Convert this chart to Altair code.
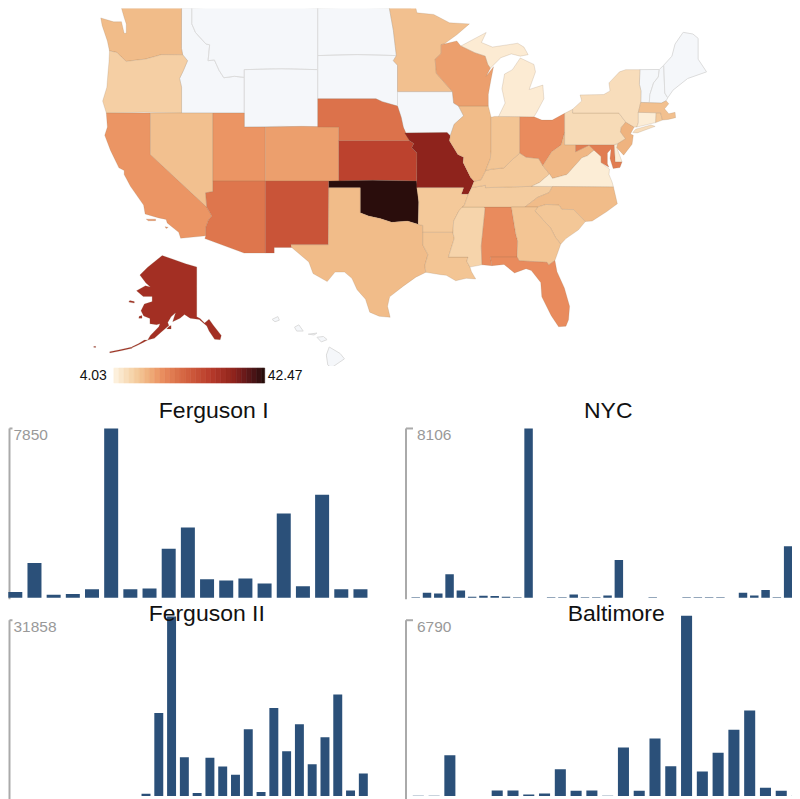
import altair as alt

FONT = "Liberation Sans"
NO_DATA = "#f5f7fa"
BAR = "#2b5079"

# Approximate state outlines (lon, lat), each state a list of rings
STATES = {
"WA": [[(-124.73,48.38),(-123.5,48.13),(-122.76,48.14),(-122.5,47.4),(-122.3,47.4),(-122.3,48.0),(-122.5,48.4),(-122.76,49.0),(-117.03,49.0),(-117.04,46.42),(-116.92,45.99),(-118.98,46.0),(-119.3,45.93),(-120.5,45.7),(-121.2,45.65),(-122.3,45.55),(-122.78,45.85),(-123.2,46.15),(-123.9,46.25),(-124.1,46.9),(-124.6,47.9)]],
"OR": [[(-123.9,46.25),(-123.2,46.15),(-122.78,45.85),(-122.3,45.55),(-121.2,45.65),(-120.5,45.7),(-119.3,45.93),(-118.98,46.0),(-116.92,45.99),(-116.46,45.6),(-116.85,44.95),(-117.22,44.4),(-117.03,43.8),(-117.03,42.0),(-124.2,42.0),(-124.55,42.84),(-124.15,43.8),(-124.05,44.7),(-123.95,45.5)]],
"CA": [[(-124.2,42.0),(-120.0,42.0),(-120.0,39.0),(-114.63,35.0),(-114.14,34.3),(-114.45,34.0),(-114.72,33.4),(-114.72,32.72),(-117.12,32.53),(-117.3,33.0),(-118.4,33.75),(-118.5,34.03),(-119.2,34.15),(-120.5,34.45),(-120.65,35.15),(-121.9,36.6),(-122.5,37.5),(-122.5,37.8),(-123.0,38.0),(-123.8,39.3),(-124.35,40.4),(-124.1,41.0)],
       [(-120.4,34.05),(-119.5,34.05),(-119.5,33.93),(-120.2,33.92)],[(-118.6,33.45),(-118.3,33.4),(-118.5,33.3)]],
"NV": [[(-120,42),(-114.04,42),(-114.04,36.2),(-114.74,36.1),(-114.63,35.0),(-120,39)]],
"ID": [[(-117.03,49),(-116.05,49),(-116.05,48.0),(-115.7,47.45),(-114.7,46.7),(-114.35,46.65),(-114.5,45.6),(-113.9,45.65),(-113.45,44.95),(-113.0,44.45),(-112.0,44.55),(-111.05,44.48),(-111.05,42),(-117.03,42),(-117.03,43.8),(-117.22,44.4),(-116.85,44.95),(-116.46,45.6),(-116.92,45.99),(-117.04,46.42)]],
"MT": [[(-116.05,49),(-104.05,49),(-104.05,45),(-111.05,45),(-111.05,44.48),(-112,44.55),(-113,44.45),(-113.45,44.95),(-113.9,45.65),(-114.5,45.6),(-114.35,46.65),(-114.7,46.7),(-115.7,47.45),(-116.05,48)]],
"WY": [[(-111.05,45),(-104.05,45),(-104.05,41),(-111.05,41)]],
"UT": [[(-114.04,42),(-111.05,42),(-111.05,41),(-109.05,41),(-109.05,37),(-114.04,37)]],
"CO": [[(-109.05,41),(-102.05,41),(-102.05,37),(-109.05,37)]],
"AZ": [[(-114.04,37),(-109.05,37),(-109.05,31.33),(-111.07,31.33),(-114.81,32.5),(-114.72,32.72),(-114.72,33.4),(-114.45,34.0),(-114.14,34.3),(-114.63,35.0),(-114.74,36.1),(-114.04,36.2)]],
"NM": [[(-109.05,37),(-103.0,37),(-103.04,32),(-106.62,32),(-106.53,31.78),(-108.2,31.78),(-108.2,31.33),(-109.05,31.33)]],
"ND": [[(-104.05,49),(-97.23,49),(-96.85,47.6),(-96.56,45.94),(-104.05,45.94)]],
"SD": [[(-104.05,45.94),(-96.56,45.94),(-96.85,45.6),(-96.45,45.3),(-96.45,43.5),(-96.45,42.49),(-97.9,42.8),(-98.5,43.0),(-104.05,43)]],
"NE": [[(-104.05,43),(-98.5,43),(-97.9,42.8),(-96.45,42.49),(-96.1,41.7),(-95.9,41.0),(-95.31,40.0),(-102.05,40),(-102.05,41),(-104.05,41)]],
"KS": [[(-102.05,40),(-95.31,40),(-94.9,39.8),(-95.1,39.5),(-94.6,39.1),(-94.62,37),(-102.05,37)]],
"OK": [[(-103,37),(-94.62,37),(-94.43,35.4),(-94.48,33.64),(-95.5,33.9),(-97.0,33.8),(-98.1,34.1),(-99.2,34.3),(-100,34.56),(-100,36.5),(-103,36.5)]],
"TX": [[(-103,36.5),(-100,36.5),(-100,34.56),(-99.2,34.3),(-98.1,34.1),(-97,33.8),(-95.5,33.9),(-94.48,33.64),(-94.04,33.55),(-94.04,33.0),(-94.04,32),(-93.55,31.2),(-93.85,30.3),(-93.75,29.75),(-94.7,29.35),(-95.9,28.6),(-97.2,27.7),(-97.4,26.9),(-97.15,25.96),(-98.2,26.05),(-99.1,26.4),(-99.5,27.5),(-100.3,28.3),(-100.8,29.25),(-101.5,29.77),(-102.4,29.77),(-103.15,28.98),(-104.5,29.65),(-104.9,30.6),(-106.53,31.78),(-106.62,32),(-103.04,32)]],
"MN": [[(-97.23,49),(-95.15,49),(-95.15,49.38),(-94.8,49.3),(-94.6,48.7),(-93,48.6),(-91.5,48.07),(-89.6,48.0),(-90.8,47.3),(-92.01,46.7),(-92.29,46.66),(-92.29,46.08),(-92.87,45.7),(-92.75,44.75),(-91.22,43.5),(-96.45,43.5),(-96.45,45.3),(-96.85,45.6),(-96.56,45.94),(-96.85,47.6)]],
"IA": [[(-96.45,43.5),(-91.22,43.5),(-91.1,42.7),(-90.64,42.5),(-90.15,41.8),(-91.05,41.2),(-91.42,40.38),(-91.73,40.61),(-95.77,40.58),(-95.9,41.0),(-96.1,41.7),(-96.45,42.49)]],
"MO": [[(-95.77,40.58),(-91.73,40.61),(-91.42,40.38),(-91.5,40.0),(-90.7,39.0),(-90.15,38.8),(-90.2,38.4),(-89.5,37.3),(-89.15,36.98),(-89.4,36.5),(-89.7,36.0),(-90.37,36.0),(-90.15,36.5),(-94.62,36.5),(-94.62,37),(-94.6,39.1),(-95.1,39.5),(-94.9,39.8),(-95.31,40)]],
"AR": [[(-94.62,36.5),(-90.15,36.5),(-90.37,36.0),(-89.7,36.0),(-90.1,35.1),(-90.6,34.7),(-91.1,33.9),(-91.17,33.0),(-94.04,33.0),(-94.04,33.55),(-94.48,33.64),(-94.43,35.4)]],
"LA": [[(-94.04,33),(-91.17,33),(-91.05,32.5),(-91.6,31.0),(-89.73,31.0),(-89.85,30.65),(-89.55,30.18),(-89.4,29.8),(-89.0,29.2),(-89.9,29.25),(-90.9,29.05),(-91.8,29.5),(-92.3,29.55),(-93.75,29.75),(-93.85,30.3),(-93.55,31.2),(-94.04,32)]],
"MS": [[(-90.3,35),(-88.2,35),(-88.1,34.9),(-88.47,31.9),(-88.4,30.37),(-89.55,30.18),(-89.85,30.65),(-89.73,31),(-91.6,31),(-91.05,32.5),(-91.17,33),(-91.1,33.9),(-90.6,34.7)]],
"AL": [[(-88.2,35),(-85.6,35),(-85.18,32.87),(-85.0,32.3),(-85.05,31.0),(-87.6,31),(-87.45,30.3),(-88.4,30.37),(-88.47,31.9),(-88.1,34.9)]],
"TN": [[(-90.3,35),(-88.2,35),(-85.6,35),(-84.32,35),(-83.1,35.75),(-82,36.12),(-81.68,36.59),(-83.68,36.6),(-88.07,36.5),(-88.07,36.68),(-89.4,36.5),(-89.7,36),(-90.1,35.1)]],
"KY": [[(-89.4,36.5),(-88.07,36.68),(-88.07,36.5),(-83.68,36.6),(-82.9,36.9),(-81.97,37.54),(-82.6,38.17),(-83.0,38.7),(-84.2,38.8),(-84.8,39.1),(-85.4,38.7),(-86.3,38.0),(-87.5,37.9),(-88.05,37.8),(-88.5,37.1),(-89.15,36.98)]],
"IL": [[(-90.64,42.5),(-87.8,42.5),(-87.53,41.7),(-87.53,39.35),(-87.6,38.7),(-88.05,37.8),(-88.5,37.1),(-89.15,36.98),(-89.5,37.3),(-90.2,38.4),(-90.15,38.8),(-90.7,39),(-91.5,40),(-91.42,40.38),(-91.05,41.2),(-90.15,41.8)]],
"IN": [[(-87.53,41.7),(-87.2,41.76),(-84.8,41.76),(-84.8,39.1),(-85.4,38.7),(-86.3,38),(-87.5,37.9),(-88.05,37.8),(-87.6,38.7),(-87.53,39.35)]],
"OH": [[(-84.8,41.76),(-83.45,41.73),(-82.7,41.5),(-81.7,41.5),(-80.52,41.98),(-80.52,40.64),(-80.85,39.7),(-81.75,39.2),(-82.6,38.17),(-83,38.7),(-84.2,38.8),(-84.8,39.1)]],
"WV": [[(-80.52,40.64),(-80.52,39.72),(-79.48,39.72),(-79.48,39.2),(-78.2,39.68),(-77.72,39.32),(-78.35,38.9),(-78.87,38.76),(-80.3,37.5),(-81.68,37.2),(-81.97,37.54),(-82.6,38.17),(-81.75,39.2),(-80.85,39.7)]],
"VA": [[(-83.68,36.6),(-81.68,36.59),(-75.87,36.55),(-76.0,36.93),(-76.3,37.5),(-76.25,37.9),(-77.05,38.4),(-77.05,38.85),(-77.72,39.32),(-78.35,38.9),(-78.87,38.76),(-80.3,37.5),(-81.68,37.2),(-81.97,37.54),(-82.9,36.9)]],
"MD": [[(-79.48,39.72),(-75.79,39.72),(-75.7,38.46),(-75.05,38.45),(-75.25,38.03),(-75.9,37.95),(-76.2,38.7),(-76.1,39.4),(-76.45,39.1),(-76.45,38.3),(-76.3,38.05),(-77.05,38.4),(-77.05,38.85),(-77.72,39.32),(-78.2,39.68),(-79.48,39.2)]],
"DE": [[(-75.79,39.72),(-75.45,39.8),(-75.55,39.5),(-75.05,38.45),(-75.7,38.46)]],
"PA": [[(-80.52,41.98),(-79.76,42.27),(-79.76,42),(-75.35,42),(-74.7,41.36),(-75.13,40.97),(-75.2,40.65),(-74.72,40.15),(-75.45,39.8),(-75.79,39.72),(-80.52,39.72)]],
"NJ": [[(-74.7,41.36),(-73.9,41.0),(-74.25,40.5),(-73.98,40.4),(-74.1,39.75),(-74.9,38.95),(-75.55,39.5),(-75.45,39.8),(-74.72,40.15),(-75.2,40.65),(-75.13,40.97)]],
"NY": [[(-79.76,42.27),(-78.9,42.85),(-79.05,43.27),(-76.8,43.3),(-76.2,43.55),(-76.3,44.1),(-75.3,44.85),(-74.7,45.0),(-73.35,45.0),(-73.4,44),(-73.25,43.55),(-73.27,42.75),(-73.5,42.05),(-73.5,41.3),(-73.65,41.0),(-73.9,41.0),(-74.7,41.36),(-75.35,42),(-79.76,42)],
       [(-74.03,40.6),(-73.75,40.85),(-72.3,41.15),(-71.9,41.05),(-73.6,40.58)]],
"CT": [[(-73.5,42.05),(-71.8,42.02),(-71.85,41.32),(-73.65,41.0),(-73.5,41.3)]],
"RI": [[(-71.8,42.02),(-71.38,42.02),(-71.2,41.5),(-71.85,41.32)]],
"MA": [[(-73.5,42.05),(-73.27,42.75),(-71.3,42.7),(-70.85,42.87),(-70.6,42.65),(-71.0,42.3),(-70.6,41.95),(-70.0,42.05),(-69.95,41.67),(-70.65,41.55),(-71.2,41.5),(-71.38,42.02),(-71.8,42.02)]],
"VT": [[(-73.35,45),(-71.5,45.01),(-71.6,44.5),(-72.05,44.1),(-72.4,43.3),(-72.46,42.73),(-73.27,42.75),(-73.25,43.55),(-73.4,44)]],
"NH": [[(-71.5,45.01),(-71.08,45.3),(-70.98,43.4),(-70.7,43.07),(-70.85,42.87),(-71.3,42.7),(-72.46,42.73),(-72.4,43.3),(-72.05,44.1),(-71.6,44.5)]],
"ME": [[(-71.08,45.3),(-70.3,45.9),(-70.0,46.7),(-69.23,47.46),(-68.3,47.35),(-67.8,47.07),(-67.8,45.7),(-67.0,44.85),(-68.8,44.4),(-70.2,43.6),(-70.7,43.07),(-70.98,43.4)]],
"MI": [[(-86.82,41.76),(-83.45,41.73),(-83.15,42.1),(-82.5,43.0),(-82.6,43.95),(-83.9,43.65),(-83.3,44.85),(-83.45,45.35),(-84.75,45.78),(-85.5,45.0),(-86.25,44.7),(-86.5,43.7),(-86.2,42.7)],
       [(-90.42,46.57),(-88.0,47.45),(-88.45,46.8),(-87.4,46.5),(-85.0,46.75),(-84.4,46.5),(-84.0,46.0),(-84.75,45.9),(-85.6,46.05),(-86.6,45.8),(-87.6,45.1),(-87.85,45.35),(-88.1,45.9),(-89.1,46.13)]],
"WI": [[(-92.29,46.66),(-92.01,46.7),(-90.8,46.9),(-90.42,46.57),(-89.1,46.13),(-88.1,45.9),(-87.85,45.35),(-87.6,45.1),(-88.0,44.55),(-87.3,45.2),(-87.55,44.3),(-87.8,43.3),(-87.8,42.5),(-90.64,42.5),(-91.1,42.7),(-91.22,43.5),(-92.75,44.75),(-92.87,45.7),(-92.29,46.08)]],
"NC": [[(-84.32,35),(-83.1,35.75),(-82,36.12),(-81.68,36.59),(-75.87,36.55),(-75.5,35.25),(-76.5,34.65),(-77.9,33.9),(-78.55,33.86),(-79.67,34.8),(-80.8,34.82),(-81.05,35.15),(-82.3,35.2),(-83.1,35.0)]],
"SC": [[(-83.1,35),(-82.3,35.2),(-81.05,35.15),(-80.8,34.82),(-79.67,34.8),(-78.55,33.86),(-79.2,33.2),(-80.4,32.5),(-80.9,32.05),(-81.4,32.6),(-81.9,33.4),(-82.6,34.0),(-83.35,34.7)]],
"GA": [[(-85.6,35),(-84.32,35),(-83.1,35),(-83.35,34.7),(-82.6,34),(-81.9,33.4),(-81.4,32.6),(-80.9,32.05),(-81.45,30.72),(-82.05,30.36),(-82.2,30.57),(-84.86,30.7),(-85.05,31),(-85,32.3),(-85.18,32.87)]],
"FL": [[(-87.6,31),(-85.05,31),(-84.86,30.7),(-82.2,30.57),(-82.05,30.36),(-81.45,30.72),(-81.25,29.8),(-80.55,28.45),(-80.05,26.9),(-80.15,25.75),(-80.4,25.2),(-81.1,25.15),(-81.8,26.1),(-82.7,27.7),(-82.8,28.9),(-83.7,29.9),(-84.2,30.05),(-85.3,29.7),(-86.3,30.4),(-87.45,30.3)]],
}
ALASKA = [[(-141,69.65),(-141,60.3),(-139.5,59.9),(-137.5,58.9),(-135.5,59.75),(-133.5,58.3),(-130,55.9),(-130.5,54.8),(-133,54.9),(-135.5,57),(-136.5,58.2),(-139.9,59.7),(-144,60),(-146.5,60.8),(-148.5,60),(-151.8,59.2),(-150.5,61.2),(-152.5,60.3),(-154,59),(-153.5,58.3),(-157,56.7),(-160,55.2),(-163,54.7),(-161.8,55.9),(-158,58.0),(-157.5,58.7),(-159,58.5),(-162,58.7),(-162,59.9),(-164.8,60.5),(-166,61.6),(-164.5,63),(-161,63.5),(-161,64.5),(-165,64.5),(-168,65.6),(-164,66.5),(-161.8,66.3),(-163.8,67),(-166.5,68.35),(-163,69.6),(-156.5,71.35),(-152,70.85),(-146,70.15)],
       [(-154.5,57.5),(-152.5,57.5),(-152.5,58.3),(-153.5,58.1)],[(-167,60),(-165.5,60),(-165.6,60.6),(-166.8,60.4)],[(-171.5,63.4),(-169,63.2),(-169,63.5),(-171,63.7)],
       [(-163,54.7),(-165,54.1),(-168,53.2),(-170,52.7),(-170,52.95),(-167,53.8),(-164.5,54.7)],
       [(-170,52.55),(-175,51.85),(-180,51.25),(-180,51.6),(-175,52.2),(-170,52.85)],[(-187.2,52.8),(-186.3,52.75),(-186.3,53.05),(-187.2,53)]]
HAWAII = [[(-156.05,19.75),(-155.85,20.27),(-155.1,19.85),(-154.8,19.5),(-155.7,18.92),(-155.95,19.1)],[(-156.7,20.9),(-156.25,20.95),(-156,20.75),(-156.4,20.6)],[(-157.3,21.1),(-156.7,21.17),(-156.9,21.05)],[(-158.25,21.55),(-157.95,21.7),(-157.65,21.3),(-158.1,21.3)],[(-159.8,22.05),(-159.4,22.23),(-159.3,22),(-159.6,21.9)]]

# Estimated rates; states not listed have no data
RATES = {"WA":11,"OR":8.6,"CA":15,"NV":10.5,"UT":15,"CO":14,"AZ":19,"NM":24,"KS":27,"NE":19.5,"MO":34,"OK":41.5,
         "TX":11,"AR":9.5,"LA":10,"MS":8,"AL":16,"GA":10,"SC":9.7,"NC":11,"TN":9,"KY":9.5,"VA":4.5,"WV":11.5,"MD":18,
         "DE":4.5,"PA":7,"NJ":12,"NY":6.7,"CT":4.5,"RI":9.5,"MA":10.5,"MN":10.5,"WI":14,"MI":4.7,"IL":11,"IN":10,
         "OH":16,"FL":16,"AK":31}

COLOR_STOPS = [4.03, 10, 16, 22, 28, 34, 42.47]
COLOR_RANGE = ["#fdf0dc", "#f3c594", "#e98b5d", "#d2603f", "#b83b2b", "#8e231c", "#200605"]

LEGEND_EDGES = [4.03, 5.3, 6.6, 7.9, 9.2, 10.5, 11.8, 13.1, 14.4, 15.7, 17.0, 18.3, 19.6, 20.9, 22.2, 23.5, 24.8,
                26.1, 27.4, 28.7, 30.0, 31.3, 32.6, 33.9, 35.2, 36.5, 37.8, 39.1, 40.4, 41.7, 42.47]
LEGEND_LABELS = ["4.03", "42.47"]

TITLES = ["Ferguson I", "NYC", "Ferguson II", "Baltimore"]
FERGUSON1 = [262,1616,139,169,400,7850,400,431,2278,3263,862,800,893,662,3910,539,4772,400,400]
NYC = [24,238,207,1128,350,48,95,79,48,24,8106,0,24,24,159,24,24,111,1812,0,0,24,0,0,24,24,24,24,0,238,111,366,24,2464]
FERGUSON2 = [0,0,0,0,0,0,0,0,0,0,413,14750,31858,6903,531,6785,5251,3776,11859,708,15635,7965,12744,5664,10443,17995,1003,4012]
BALTIMORE = [12,12,1540,0,0,213,213,63,100,1015,200,213,12,1829,200,2168,1128,6790,927,1629,2494,3220,313,200,12]

PROJ_48 = {"type": "mercator", "scale": 602, "translate": [1403.4, 591.8]}
PROJ_AK = {"type": "mercator", "scale": 128, "translate": [168.9, 478.6], "rotate": [150, 0, 0]}
PROJ_HI = {"type": "mercator", "scale": 830, "translate": [305, 638.9], "rotate": [157, 0, 0]}


def oriented(ring):
    area = sum(a[0]*b[1]-b[0]*a[1] for a, b in zip(ring, ring[1:]+ring[:1]))
    pts = ring[::-1] if area > 0 else ring
    pts = [list(p) for p in pts]
    return [pts + [pts[0]]]


def feature(code, rings):
    return {"type": "Feature",
            "geometry": {"type": "MultiPolygon", "coordinates": [oriented(r) for r in rings]},
            "properties": {"code": code, "rate": RATES.get(code)}}


color_scale = alt.Scale(domain=COLOR_STOPS, range=COLOR_RANGE, type="linear")
STROKE = dict(stroke="#8a6a50", strokeOpacity=0.18, strokeWidth=1, clip=True)

nodata = alt.Chart(alt.Data(values=[feature(c, r) for c, r in STATES.items() if c not in RATES])).mark_geoshape(
    fill=NO_DATA, stroke="#dcdcdc", strokeWidth=1, clip=True).project(**PROJ_48)
withdata = alt.Chart(alt.Data(values=[feature(c, r) for c, r in STATES.items() if c in RATES])).mark_geoshape(
    **STROKE).encode(color=alt.Color("properties.rate:Q", scale=color_scale, legend=None)).project(**PROJ_48)
alaska = alt.Chart(alt.Data(values=[feature("AK", ALASKA)])).mark_geoshape(
    **STROKE).encode(color=alt.Color("properties.rate:Q", scale=color_scale, legend=None)).project(**PROJ_AK)
hawaii = alt.Chart(alt.Data(values=[feature("HI", HAWAII)])).mark_geoshape(
    fill=NO_DATA, stroke="#dcdcdc", strokeWidth=1, clip=True).project(**PROJ_HI)
map_panel = alt.layer(nodata, withdata, alaska, hawaii).properties(width=784, height=358)

legend_x = alt.Scale(domain=[4.03, 42.47], range=[106, 257])
legend_rows = [{"lo": a, "hi": b} for a, b in zip(LEGEND_EDGES, LEGEND_EDGES[1:])]
legend_rect = alt.Chart(alt.Data(values=legend_rows)).mark_rect(strokeWidth=0.6).encode(
    x=alt.X("lo:Q", scale=legend_x, axis=None), x2="hi:Q",
    y=alt.value(2), y2=alt.value(17),
    color=alt.Color("lo:Q", scale=color_scale, legend=None),
    stroke=alt.Stroke("lo:Q", scale=color_scale, legend=None))
legend_low = alt.Chart(alt.Data(values=[{"v": 4.03, "t": LEGEND_LABELS[0]}])).mark_text(
    font=FONT, fontSize=14, align="right", dx=-7, color="#111").encode(
    x=alt.X("v:Q", scale=legend_x, axis=None), y=alt.value(10), text="t:N")
legend_high = alt.Chart(alt.Data(values=[{"v": 42.47, "t": LEGEND_LABELS[1]}])).mark_text(
    font=FONT, fontSize=14, align="left", dx=3, color="#111").encode(
    x=alt.X("v:Q", scale=legend_x, axis=None), y=alt.value(10), text="t:N")
legend_panel = alt.layer(legend_rect, legend_low, legend_high).properties(width=784, height=29)


def panel(title, values, width, height, x0, step, pad, bar_range, axis_range, axis_x, tick, label_pad, dx, title_offset):
    n = len(values)
    rows = [{"i": i, "v": v} for i, v in enumerate(values)]
    top = max(values)
    bars = alt.Chart(alt.Data(values=rows)).mark_bar(color=BAR, clip=True).encode(
        x=alt.X("i:O", axis=None, scale=alt.Scale(domain=list(range(n)), range=[x0, x0 + step * (n - pad)],
                                                 paddingInner=pad, paddingOuter=0, round=False)),
        y=alt.Y("v:Q", axis=None, scale=alt.Scale(domain=[0, top], range=bar_range, nice=False)))
    ax = alt.Chart(alt.Data(values=[{"v": top}])).mark_rule(opacity=0).encode(
        y=alt.Y("v:Q", title=None,
                scale=alt.Scale(domain=[0, top], range=axis_range, nice=False),
                axis=alt.Axis(orient="right", offset=axis_x - width, values=[top], format="d", grid=False,
                              domainColor="#aaaaaa", domainWidth=2, tickColor="#aaaaaa", tickWidth=2,
                              tickSize=tick, labelPadding=label_pad, labelBaseline="top",
                              labelColor="#999999", labelFont=FONT, labelFontSize=15.5)))
    return alt.layer(bars, ax).resolve_scale(y="independent").properties(
        width=width, height=height,
        title=alt.TitleParams(text=title, font=FONT, fontSize=23, fontWeight="normal", color="#111111",
                              anchor="middle", dx=dx, offset=title_offset))


p1 = panel(TITLES[0], FERGUSON1, 397, 205, 0.3, 19.2, 0.27, [203, 33.5], [204, 33], 1, 3, 1, 7.5, -28)
p2 = panel(TITLES[1], NYC, 387, 205, 6, 11.3, 0.25, [203, 33.5], [204, 33], 0, 7, 4, 9.5, -28)
p3 = panel(TITLES[2], FERGUSON2, 397, 199, 5.7, 12.8, 0.3, [196.6, 16.7], [199, 20], 1, 3, 1, 0.5, -26)
p4 = panel(TITLES[3], BALTIMORE, 387, 199, 7.3, 15.8, 0.3, [196.6, 16], [199, 20], 0, 7, 4, 17.5, -26)

row1 = alt.hconcat(p1, p2, spacing=0)
row2 = alt.hconcat(p3, p4, spacing=0)
chart = alt.vconcat(map_panel, legend_panel, row1, row2, spacing=0).properties(padding=0).configure_view(stroke=None)

chart.save("out.html", embed_options={"renderer": "svg", "actions": False})
